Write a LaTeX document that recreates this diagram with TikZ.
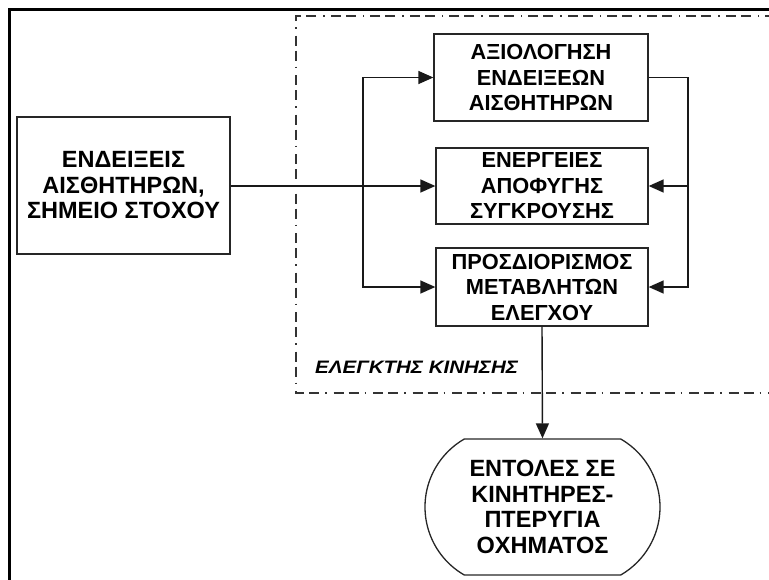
\documentclass[tikz,border=0pt]{standalone}
\usepackage{fontspec}
\setmainfont{Liberation Sans}
\usetikzlibrary{arrows.meta,shapes.misc}

\tikzset{
  lbl/.style={font=\bfseries\fontsize{23.5}{25.5}\selectfont, align=center, inner sep=0pt},
  narrow/.style={font=\bfseries\fontsize{21.8}{25.5}\selectfont},
  blockbox/.style={lbl, draw=black!85, line width=1.3pt, rectangle},
  endbox/.style={lbl, draw=black!85, line width=1.3pt, rounded rectangle,
    rounded rectangle arc length=120},
  link/.style={draw=black!90, line width=1.4pt},
  arr/.style={link, -{Triangle[length=15pt,width=13pt]}},
  frameline/.style={draw=black, line width=3pt},
  groupline/.style={draw=black!80, line width=1.8pt,
    dash pattern=on 10pt off 5pt on 10pt off 6pt on 1.5pt off 7pt}
}

\begin{document}
\begin{tikzpicture}[x=1pt, y=-1pt]
  \useasboundingbox (0,0) rectangle (769,579);
  \clip (0,0) rectangle (769,579);

  % outer frame (top and left edges)
  \draw[frameline] (9.5,585) -- (9.5,9.5) -- (780,9.5);

  % controller boundary
  \draw[groupline] (790,16) -- (296,16) -- (296,393) -- (790,393);
  \node[font=\bfseries\itshape\fontsize{18}{20}\selectfont, anchor=west,
        inner sep=0pt, xscale=1.14, transform shape] (ctl) at (315,367)
        {ΕΛΕΓΚΤΗΣ ΚΙΝΗΣΗΣ};

  % blocks
  \node[blockbox, minimum width=213pt, minimum height=137pt] (inp) at (123.5,185.5)
    {ΕΝΔΕΙΞΕΙΣ\\ΑΙΣΘΗΤΗΡΩΝ,\\ΣΗΜΕΙΟ ΣΤΟΧΟΥ};
  \node[blockbox, narrow, minimum width=214pt, minimum height=87pt] (eval) at (541,77.5)
    {ΑΞΙΟΛΟΓΗΣΗ\\ΕΝΔΕΙΞΕΩΝ\\ΑΙΣΘΗΤΗΡΩΝ};
  \node[blockbox, narrow, minimum width=212pt, minimum height=76pt] (avoid) at (542,186)
    {ΕΝΕΡΓΕΙΕΣ\\ΑΠΟΦΥΓΗΣ\\ΣΥΓΚΡΟΥΣΗΣ};
  \node[blockbox, narrow, minimum width=212pt, minimum height=78pt] (ctrl) at (542,287)
    {ΠΡΟΣΔΙΟΡΙΣΜΟΣ\\ΜΕΤΑΒΛΗΤΩΝ\\ΕΛΕΓΧΟΥ};
  \node[endbox, minimum width=235pt, minimum height=136pt] (out) at (542.5,507)
    {ΕΝΤΟΛΕΣ ΣΕ\\ΚΙΝΗΤΗΡΕΣ-\\ΠΤΕΡΥΓΙΑ\\ΟΧΗΜΑΤΟΣ};

  % branch points
  \coordinate (split) at (363,186);
  \coordinate (merge) at (688,186);

  % sensor input fans out to the three blocks
  \draw[arr] (inp.east |- split) -- (avoid.west);
  \draw[arr] (split) |- (eval.west);
  \draw[arr] (split) |- (ctrl.west);

  % evaluation feeds avoidance and control variables
  \draw[link] (eval.east) -| (merge);
  \draw[arr] (merge) -- (avoid.east);
  \draw[arr] (merge) |- (ctrl.east);

  % commands to actuators
  \draw[arr] (ctrl.south) -- (out.north);
\end{tikzpicture}
\end{document}
